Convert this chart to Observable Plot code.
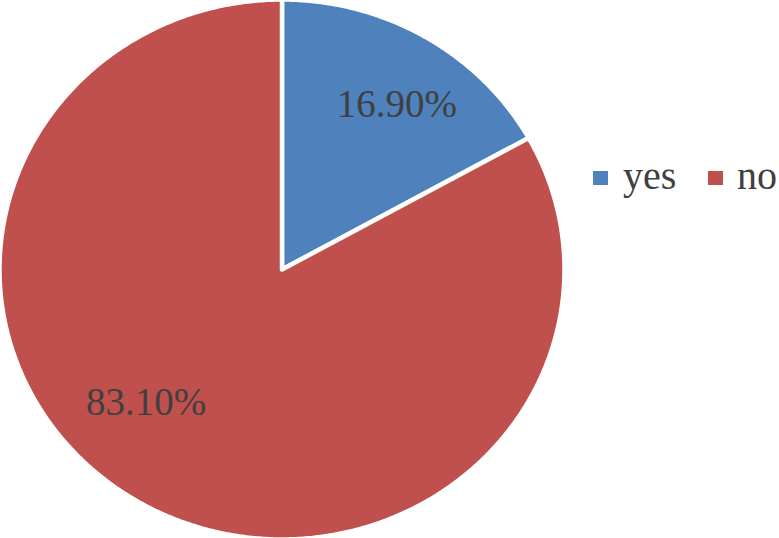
<!DOCTYPE html>
<html>
<head>
<meta charset="utf-8">
<script src="https://cdn.jsdelivr.net/npm/d3@7"></script>
<script src="https://cdn.jsdelivr.net/npm/@observablehq/plot@0.6"></script>
<style>
  html, body { margin: 0; padding: 0; background: #fff; }
  #wrap { position: relative; width: 779px; height: 538px; overflow: hidden; }
  .sw { position: absolute; width: 15px; height: 14px; }
  .lt { position: absolute; font-family: "Times New Roman", "Liberation Serif", Tinos, "DejaVu Serif", serif; font-size: 40px; line-height: 40px; color: #404040; white-space: nowrap; }
</style>
</head>
<body>
<div id="wrap"></div>
<script>
// Data
const categories = ["yes", "no"];
const values = [16.90, 83.10];
const labels = ["16.90%", "83.10%"];
const colors = ["#4F81BD", "#C0504D"];
const serif = '"Times New Roman", "Liberation Serif", Tinos, "DejaVu Serif", serif';

// Pie geometry (angles from the library's pie layout)
const arcs = d3.pie().sort(null).value(d => d)(values);
const poly = [];
arcs.forEach((a, i) => {
  const cat = categories[i];
  poly.push({cat, x: 0, y: 0});
  const n = Math.max(2, Math.ceil((a.endAngle - a.startAngle) / (Math.PI / 360)));
  for (let k = 0; k <= n; k++) {
    const t = a.startAngle + (a.endAngle - a.startAngle) * k / n;
    poly.push({cat, x: Math.sin(t), y: Math.cos(t)});
  }
  poly.push({cat, x: 0, y: 0});
});
const labelData = arcs.map((a, i) => {
  const m = (a.startAngle + a.endAngle) / 2;
  return {cat: categories[i], text: labels[i], x: 0.72 * Math.sin(m), y: 0.72 * Math.cos(m)};
});

const chart = Plot.plot({
  width: 779,
  height: 538,
  margin: 0,
  x: {domain: [-1, 1], range: [-1, 564], axis: null},
  y: {domain: [-1, 1], range: [539, -1], axis: null},
  color: {domain: categories, range: colors},
  style: {background: "white"},
  marks: [
    Plot.line(poly, {x: "x", y: "y", z: "cat", fill: "cat", stroke: "white", strokeWidth: 4.5, strokeLinejoin: "round", curve: "linear"}),
    Plot.text(labelData.filter(d => d.cat === "yes"), {x: "x", y: "y", text: "text", dx: 12, dy: 3, fill: "#404040", fontSize: 39, fontFamily: serif}),
    Plot.text(labelData.filter(d => d.cat === "no"), {x: "x", y: "y", text: "text", dx: -33, dy: -35, fill: "#404040", fontSize: 39, fontFamily: serif})
  ]
});
const wrap = document.getElementById("wrap");
wrap.appendChild(chart);

// Legend
const legendItems = [
  {cat: categories[0], color: colors[0], sx: 593, tx: 623},
  {cat: categories[1], color: colors[1], sx: 708, tx: 737}
];
legendItems.forEach(it => {
  const sw = document.createElement("div");
  sw.className = "sw";
  sw.style.left = it.sx + "px";
  sw.style.top = "171px";
  sw.style.background = it.color;
  wrap.appendChild(sw);
  const t = document.createElement("div");
  t.className = "lt";
  t.style.left = it.tx + "px";
  t.style.top = "156px";
  t.textContent = it.cat;
  wrap.appendChild(t);
});
</script>
</body>
</html>
